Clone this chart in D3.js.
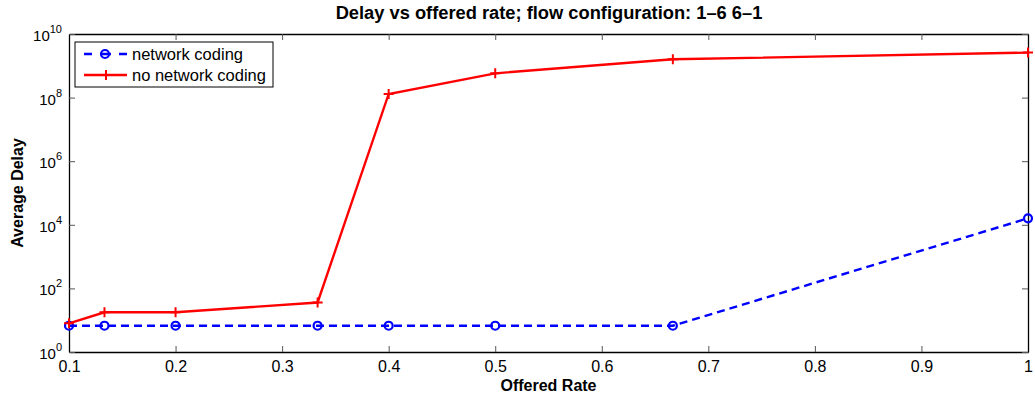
<!DOCTYPE html>
<html>
<head>
<meta charset="utf-8">
<script src="https://cdn.jsdelivr.net/npm/d3@7"></script>
<style>
  body { margin: 0; background: #fff; }
  text { font-family: "Liberation Sans", Arial, sans-serif; }
</style>
</head>
<body>
<div id="chart"></div>
<script>
const rates = [0.1, 0.1333, 0.2, 0.3333, 0.4, 0.5, 0.6667, 1];
const codingDelay = [6.7, 6.7, 6.7, 6.7, 6.7, 6.7, 6.7, 1.6e4];
const noCodingDelay = [8, 17.7, 17.7, 36, 1.3e8, 5.8e8, 1.6e9, 2.6e9];
const xTicks = [0.1, 0.2, 0.3, 0.4, 0.5, 0.6, 0.7, 0.8, 0.9, 1];
const yExps = [0, 2, 4, 6, 8, 10];

const W = 1035, H = 399;
const m = { left: 69, right: 7, top: 34, bottom: 47 };
const iw = W - m.left - m.right, ih = H - m.top - m.bottom;

const svg = d3.select("#chart").append("svg")
    .attr("width", W).attr("height", H);

const x = d3.scaleLinear().domain([0.1, 1]).range([0, iw]);
const y = d3.scaleLog().domain([1, 1e10]).range([ih, 0]);

const g = svg.append("g").attr("transform", `translate(${m.left},${m.top})`);

// axes, inward ticks on all four sides
const xb = g.append("g").attr("transform", `translate(0,${ih})`)
    .call(d3.axisBottom(x).tickValues(xTicks).tickSizeInner(-6).tickSizeOuter(0).tickPadding(9)
        .tickFormat(d => d3.format("")(d)));
const xt = g.append("g")
    .call(d3.axisTop(x).tickValues(xTicks).tickSizeInner(-6).tickSizeOuter(0).tickFormat(""));
const yl = g.append("g")
    .call(d3.axisLeft(y).tickValues(yExps.map(e => Math.pow(10, e))).tickSizeInner(-6).tickSizeOuter(0).tickFormat(""));
const yr = g.append("g").attr("transform", `translate(${iw},0)`)
    .call(d3.axisRight(y).tickValues(yExps.map(e => Math.pow(10, e))).tickSizeInner(-6).tickSizeOuter(0).tickFormat(""));

[xb, xt, yl, yr].forEach(a => {
  a.select(".domain").attr("stroke", "#000").attr("stroke-width", 1.3);
  a.selectAll(".tick line").attr("stroke", "#555");
  a.selectAll("text").attr("font-size", 16).attr("fill", "#000");
});

// y tick labels as 10 with superscripts
yExps.forEach(e => {
  const t = g.append("text")
      .attr("x", -7).attr("y", y(Math.pow(10, e)) + 7)
      .attr("text-anchor", "end").attr("font-size", 15).attr("fill", "#000");
  t.append("tspan").text("10");
  t.append("tspan").attr("dy", -8).attr("font-size", 11).text(e);
});

const line = d3.line().x(d => x(d[0])).y(d => y(d[1]));

const blue = rates.map((r, i) => [r, codingDelay[i]]);
const red = rates.map((r, i) => [r, noCodingDelay[i]]);

g.append("path").datum(blue).attr("d", line)
    .attr("fill", "none").attr("stroke", "#0000ff").attr("stroke-width", 2.4)
    .attr("stroke-dasharray", "8,5");
g.selectAll("circle.nc").data(blue).enter().append("circle")
    .attr("class", "nc").attr("cx", d => x(d[0])).attr("cy", d => y(d[1])).attr("r", 4)
    .attr("fill", "none").attr("stroke", "#0000ff").attr("stroke-width", 2.2);

g.append("path").datum(red).attr("d", line)
    .attr("fill", "none").attr("stroke", "#ff0000").attr("stroke-width", 2.4);
g.selectAll("path.plus").data(red).enter().append("path")
    .attr("class", "plus")
    .attr("d", d => { const px = x(d[0]), py = y(d[1]);
      return `M${px - 5},${py}H${px + 5}M${px},${py - 5}V${py + 5}`; })
    .attr("stroke", "#ff0000").attr("stroke-width", 2);

// legend
const lg = svg.append("g").attr("transform", "translate(75,42)");
lg.append("rect").attr("width", 198).attr("height", 45)
    .attr("fill", "#fff").attr("stroke", "#000").attr("stroke-width", 1);
lg.append("line").attr("x1", 9).attr("x2", 52).attr("y1", 12).attr("y2", 12)
    .attr("stroke", "#0000ff").attr("stroke-width", 2.4).attr("stroke-dasharray", "8,8,11,8,8");
lg.append("circle").attr("cx", 30).attr("cy", 12).attr("r", 4)
    .attr("fill", "none").attr("stroke", "#0000ff").attr("stroke-width", 2.2);
lg.append("text").attr("x", 57).attr("y", 18).attr("font-size", 16.5).text("network coding");
lg.append("line").attr("x1", 9).attr("x2", 52).attr("y1", 33).attr("y2", 33)
    .attr("stroke", "#ff0000").attr("stroke-width", 2.4);
lg.append("path").attr("d", "M26,33H36M31,28V38").attr("stroke", "#ff0000").attr("stroke-width", 2);
lg.append("text").attr("x", 57).attr("y", 39).attr("font-size", 16.5).text("no network coding");

// titles
svg.append("text").attr("x", 549).attr("y", 19).attr("text-anchor", "middle")
    .attr("font-size", 18.3).attr("font-weight", "bold").text("Delay vs offered rate; flow configuration: 1\u20136 6\u20131");
svg.append("text").attr("x", m.left + iw / 2).attr("y", 391).attr("text-anchor", "middle")
    .attr("font-size", 16).attr("font-weight", "bold").text("Offered Rate");
svg.append("text").attr("transform", `translate(23,${m.top + ih / 2}) rotate(-90)`)
    .attr("text-anchor", "middle").attr("font-size", 16).attr("font-weight", "bold").text("Average Delay");
</script>
</body>
</html>
